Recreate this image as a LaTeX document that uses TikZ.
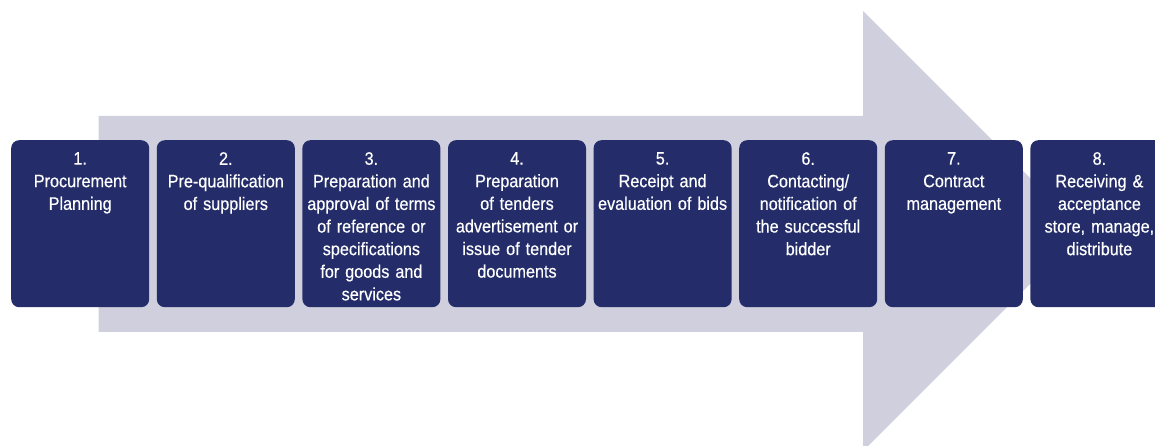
\documentclass[tikz,border=0pt]{standalone}
\usepackage{fontspec}
\setmainfont{Liberation Sans}[FakeStretch=0.9, FakeBold=0.4]
\usepackage{xcolor}
\usetikzlibrary{positioning}
\definecolor{stagenavy}{RGB}{36,45,105}
\definecolor{arrowgrey}{RGB}{208,207,222}

\begin{document}
\begin{tikzpicture}[x=1pt, y=1pt, node distance=7.2pt,
    stage/.style={fill=stagenavy, rounded corners=8pt, minimum width=138pt, minimum height=167pt, inner sep=0pt},
    stagetext/.style={text=white, text width=136pt, align=center, inner sep=0pt, font=\fontsize{18}{22.6}\selectfont}]
    \clip (0,0) rectangle (1155,446);
    \useasboundingbox (0,0) rectangle (1155,446);
    % big arrow behind the steps
    \fill [arrowgrey] (98.7,330) -- (863,330) -- (863,435) -- (1083,215) -- (863,-5) -- (863,114) -- (98.7,114) -- cycle;

    \node [stage, anchor=north west] (box1) at (11,306) {};
    \node [stage] (box2) [right=of box1] {};
    \node [stage] (box3) [right=of box2] {};
    \node [stage] (box4) [right=of box3] {};
    \node [stage] (box5) [right=of box4] {};
    \node [stage] (box6) [right=of box5] {};
    \node [stage] (box7) [right=of box6] {};
    \node [stage] (box8) [right=of box7] {};

    \node [stagetext] (txt1) [below=12pt of box1.north] {1.\\ Procurement\\ Planning};
    \node [stagetext] (txt2) [below=12pt of box2.north] {2.\\ Pre-qualification\\ of suppliers};
    \node [stagetext] (txt3) [below=12pt of box3.north] {3.\\ Preparation and\\ approval of terms\\ of reference or\\ specifications\\ for goods and\\ services};
    \node [stagetext] (txt4) [below=12pt of box4.north] {4.\\ Preparation\\ of tenders\\ advertisement or\\ issue of tender\\ documents};
    \node [stagetext] (txt5) [below=12pt of box5.north] {5.\\ Receipt and\\ evaluation of bids};
    \node [stagetext] (txt6) [below=12pt of box6.north] {6.\\ Contacting/\\ notification of\\ the successful\\ bidder};
    \node [stagetext] (txt7) [below=12pt of box7.north] {7.\\ Contract\\ management};
    \node [stagetext] (txt8) [below=12pt of box8.north] {8.\\ Receiving \&\\ acceptance\\ store, manage,\\ distribute};
\end{tikzpicture}
\end{document}
